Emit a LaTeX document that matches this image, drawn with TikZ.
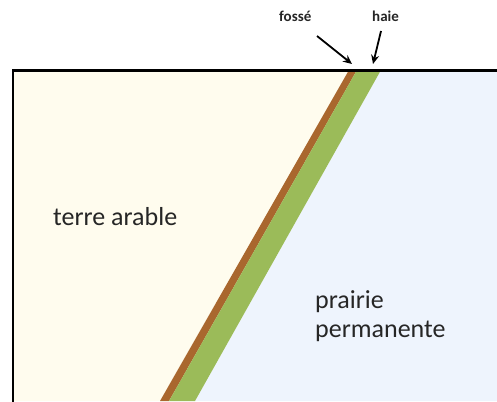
\documentclass[tikz,border=0pt]{standalone}
\usepackage{fontspec}
\setmainfont{Carlito}
\usetikzlibrary{arrows.meta}
\definecolor{arable}{HTML}{FFFCEE}
\definecolor{prairie}{HTML}{EEF4FD}
\definecolor{fosse}{HTML}{A9672E}
\definecolor{haie}{HTML}{9BBB59}
\definecolor{txt}{HTML}{262626}
\begin{document}
\begin{tikzpicture}[x=1pt,y=-1pt,
  bigtext/.style={font=\fontsize{26}{29}\selectfont, text=txt, inner sep=0pt, anchor=base west},
  smalltext/.style={font=\bfseries\fontsize{15}{17}\selectfont, text=txt, inner sep=0pt, anchor=base west},
  pointer/.style={-{Stealth[length=9pt,width=8pt]}, line width=1.8pt, black}]
\useasboundingbox (0,0) rectangle (497,401);
% regions
\fill[arable] (13,70) -- (349,70) -- (160,401) -- (13,401) -- cycle;
\fill[prairie] (381,70) -- (497,70) -- (497,401) -- (195,401) -- cycle;
\fill[fosse] (349,70) -- (357,70) -- (169,401) -- (160,401) -- cycle;
\fill[haie] (357,70) -- (381,70) -- (195,401) -- (169,401) -- cycle;
% border
\draw[line width=2.4pt, black] (13,402) -- (13,70.5) -- (497,70.5);
% texts
\node[bigtext] (ta) at (53,225) {terre arable};
\node[bigtext] (pp1) at (315,308) {prairie};
\node[bigtext] (pp2) at (315,337) {permanente};
\node[smalltext] (lf) at (279,22) {fossé};
\node[smalltext] (lh) at (372,22) {haie};
% arrows
\coordinate (tf) at (352,64);
\coordinate (th) at (373,64);
\coordinate (sf) at (317,36);
\coordinate (sh) at (381,31);
\draw[pointer] (sf) -- (tf);
\draw[pointer] (sh) -- (th);
\end{tikzpicture}
\end{document}
